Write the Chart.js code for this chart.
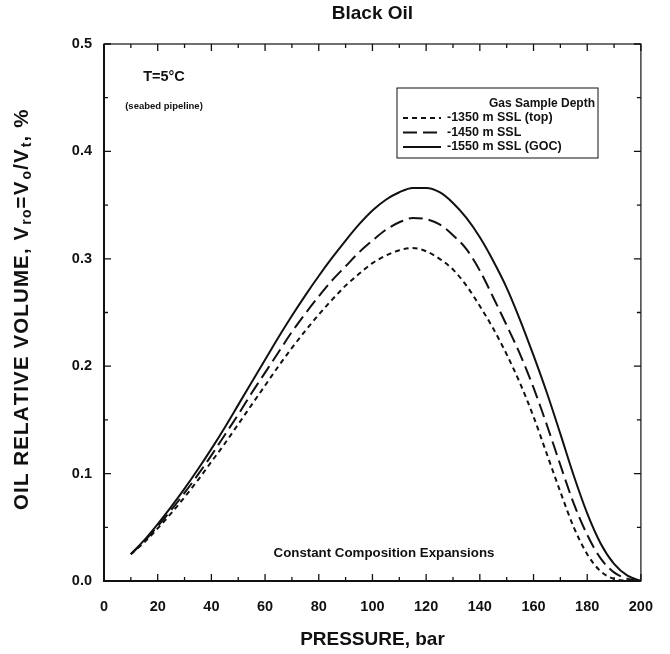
<!DOCTYPE html>
<html>
<head>
<meta charset="utf-8">
<script src="https://cdn.jsdelivr.net/npm/chart.js@4.4.0/dist/chart.umd.min.js"></script>
<style>
  html, body { margin: 0; padding: 0; background: #fff; }
  #wrap { width: 670px; height: 654px; }
</style>
</head>
<body>
<div id="wrap"><canvas id="oilChart" width="670" height="654"></canvas></div>
<script>
// pressure steps (bar)
const pressure = [10, 15, 20, 25, 30, 35, 40, 45, 50, 55, 60, 65, 70, 75, 80, 85, 90, 95, 100,
  105, 110, 115, 120, 125, 130, 135, 140, 145, 150, 155, 160, 165, 170, 175, 180, 185, 190, 195, 200];

// oil relative volume for each gas sample depth
const vro1350 = [0.025, 0.036, 0.049, 0.063, 0.078, 0.094, 0.111, 0.128, 0.146, 0.164, 0.182, 0.200,
  0.217, 0.233, 0.248, 0.262, 0.275, 0.286, 0.296, 0.303, 0.308, 0.310, 0.307, 0.300, 0.290, 0.275,
  0.256, 0.235, 0.211, 0.184, 0.153, 0.118, 0.083, 0.050, 0.025, 0.009, 0.002, 0.0, null];
const vro1450 = [0.025, 0.037, 0.051, 0.066, 0.082, 0.099, 0.117, 0.136, 0.155, 0.175, 0.194, 0.213,
  0.232, 0.249, 0.265, 0.280, 0.293, 0.306, 0.317, 0.327, 0.334, 0.338, 0.337, 0.332, 0.322, 0.309,
  0.289, 0.264, 0.238, 0.211, 0.180, 0.145, 0.108, 0.072, 0.043, 0.021, 0.008, 0.002, 0.0];
const vro1550 = [0.025, 0.038, 0.053, 0.069, 0.086, 0.104, 0.123, 0.143, 0.164, 0.185, 0.206, 0.227,
  0.247, 0.266, 0.284, 0.301, 0.317, 0.332, 0.345, 0.355, 0.362, 0.366, 0.366, 0.362, 0.352, 0.338,
  0.320, 0.298, 0.273, 0.243, 0.210, 0.175, 0.137, 0.098, 0.063, 0.035, 0.016, 0.005, 0.0];

const seriesLabels = ['-1350 m SSL (top)', '-1450 m SSL', '-1550 m SSL (GOC)'];
const seriesDash = [[5, 4], [14, 6], []];

const FONT = '"Liberation Sans", Arial, Helvetica, sans-serif';
const INK = '#111';

const toPoints = vals => pressure.map((p, i) => ({ x: p, y: vals[i] }));

// inward ticks on all four sides plus the frame
const frameTicks = {
  id: 'frameTicks',
  afterDatasetsDraw(chart) {
    const { ctx, chartArea: a, scales: { x, y } } = chart;
    ctx.save();
    ctx.strokeStyle = INK;
    ctx.lineWidth = 1.2;
    ctx.strokeRect(a.left, a.top, a.right - a.left, a.bottom - a.top);
    ctx.lineWidth = 2;
    ctx.beginPath();
    ctx.moveTo(a.left, a.top); ctx.lineTo(a.left, a.bottom); ctx.lineTo(a.right, a.bottom);
    ctx.stroke();
    ctx.lineWidth = 1.3;
    ctx.beginPath();
    for (let v = 0; v <= 200; v += 10) {
      const px = x.getPixelForValue(v);
      const len = v % 20 === 0 ? 7 : 4;
      ctx.moveTo(px, a.bottom); ctx.lineTo(px, a.bottom - len);
      ctx.moveTo(px, a.top); ctx.lineTo(px, a.top + len);
    }
    for (let i = 0; i <= 10; i++) {
      const py = y.getPixelForValue(i * 0.05);
      const len = i % 2 === 0 ? 7 : 4;
      ctx.moveTo(a.left, py); ctx.lineTo(a.left + len, py);
      ctx.moveTo(a.right, py); ctx.lineTo(a.right - len, py);
    }
    ctx.stroke();
    ctx.restore();
  }
};

// titles, notes and the boxed legend
const labelsPlugin = {
  id: 'labelsPlugin',
  afterDraw(chart) {
    const { ctx, chartArea: a } = chart;
    const cx = (a.left + a.right) / 2;
    ctx.save();
    ctx.fillStyle = INK;
    ctx.textBaseline = 'middle';
    ctx.textAlign = 'center';

    ctx.font = 'bold 19px ' + FONT;
    ctx.fillText('Black Oil', cx, 14);

    ctx.font = 'bold 19px ' + FONT;
    ctx.fillText('PRESSURE, bar', cx, 640);

    ctx.font = 'bold 14.5px ' + FONT;
    ctx.fillText('T=5°C', 164, 77);
    ctx.font = 'bold 9.5px ' + FONT;
    ctx.fillText('(seabed pipeline)', 164, 106);

    ctx.font = 'bold 13.3px ' + FONT;
    ctx.fillText('Constant Composition Expansions', 384, 553);

    // y axis title with subscripts, spread to its full length
    const parts = [
      ['OIL RELATIVE VOLUME, V', false], ['ro', true], ['=V', false], ['o', true],
      ['/V', false], ['t', true], [', %', false]
    ];
    const big = 'bold 20.5px ' + FONT, small = 'bold 14px ' + FONT;
    let total = 0, nChars = 0;
    parts.forEach(([t, sub]) => {
      ctx.font = sub ? small : big;
      total += ctx.measureText(t).width + (sub ? 1 : 0);
      nChars += t.length;
    });
    const spacing = Math.max(0, (400 - total) / nChars);
    total += spacing * nChars;
    ctx.translate(22, 310);
    ctx.rotate(-Math.PI / 2);
    ctx.textAlign = 'left';
    let px = -total / 2;
    parts.forEach(([t, sub]) => {
      ctx.font = sub ? small : big;
      for (const ch of t) {
        ctx.fillText(ch, px + (sub ? 1 : 0), sub ? 5 : 0);
        px += ctx.measureText(ch).width + spacing;
      }
      if (sub) px += 1;
    });
    ctx.setTransform(1, 0, 0, 1, 0, 0);

    // legend box
    ctx.strokeStyle = INK;
    ctx.lineWidth = 1;
    ctx.strokeRect(397, 88, 201, 70);
    ctx.font = 'bold 12px ' + FONT;
    ctx.textAlign = 'right';
    ctx.fillText('Gas Sample Depth', 595, 104);
    ctx.textAlign = 'left';
    ctx.font = 'bold 12.5px ' + FONT;
    ctx.lineWidth = 2;
    seriesLabels.forEach((lab, i) => {
      const ly = 118 + i * 14.5;
      ctx.setLineDash(seriesDash[i]);
      ctx.beginPath();
      ctx.moveTo(403, ly); ctx.lineTo(441, ly);
      ctx.stroke();
      ctx.setLineDash([]);
      ctx.fillText(lab, 447, ly);
    });
    ctx.restore();
  }
};

new Chart(document.getElementById('oilChart'), {
  type: 'line',
  data: {
    datasets: [vro1350, vro1450, vro1550].map((vals, i) => ({
      label: seriesLabels[i],
      data: toPoints(vals),
      borderColor: INK,
      borderWidth: 2,
      borderDash: seriesDash[i],
      pointRadius: 0,
      fill: false,
      cubicInterpolationMode: 'monotone',
      spanGaps: false
    }))
  },
  options: {
    responsive: false,
    animation: false,
    layout: { padding: { top: 44, right: 25, left: 0, bottom: 0 } },
    plugins: {
      legend: { display: false },
      tooltip: { enabled: false },
      title: { display: false }
    },
    scales: {
      x: {
        type: 'linear',
        min: 0,
        max: 200,
        grid: { display: false, drawTicks: false },
        border: { display: false },
        ticks: { stepSize: 20, color: INK, padding: 17, maxRotation: 0, font: { family: FONT, size: 14.5, weight: 'bold' } },
        afterFit(scale) { scale.height = 73; }
      },
      y: {
        min: 0,
        max: 0.5,
        grid: { display: false, drawTicks: false },
        border: { display: false },
        ticks: { stepSize: 0.1, color: INK, padding: 12, callback: v => v.toFixed(1), font: { family: FONT, size: 14.5, weight: 'bold' } },
        afterFit(scale) { scale.width = 104; }
      }
    }
  },
  plugins: [frameTicks, labelsPlugin]
});
</script>
</body>
</html>
